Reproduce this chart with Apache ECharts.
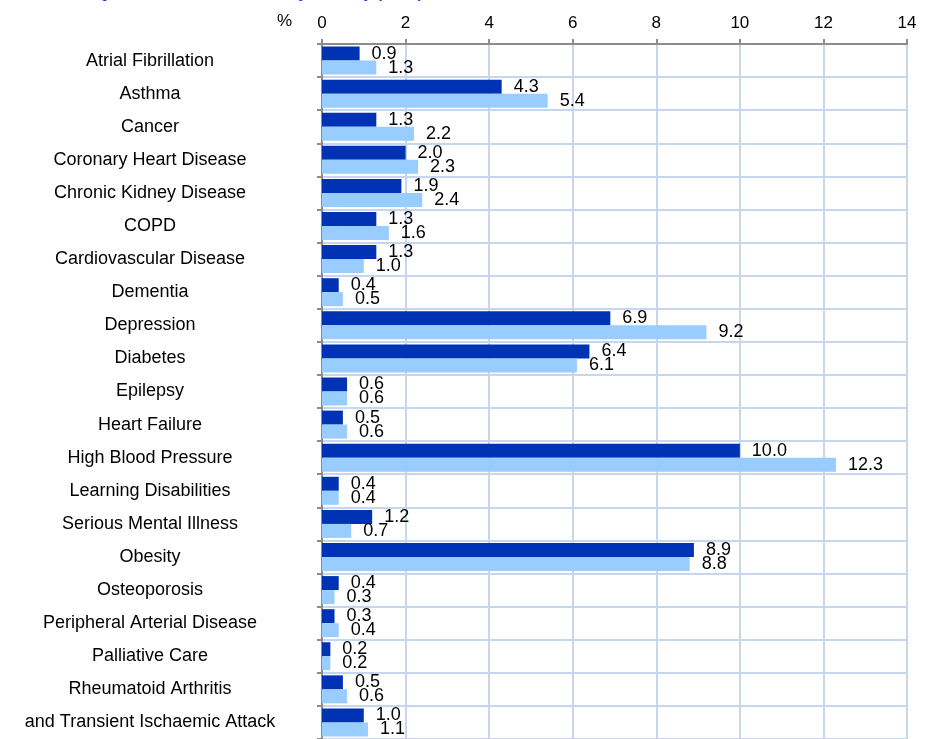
<!DOCTYPE html>
<html>
<head>
<meta charset="utf-8">
<script src="https://cdn.jsdelivr.net/npm/echarts@6/dist/echarts.min.js"></script>
<style>
  html, body { margin: 0; padding: 0; background: #fff; }
  #chart { width: 931px; height: 739px; }
</style>
</head>
<body>
<div id="chart"></div>
<script>
// categories top to bottom
const categories = [
  'Atrial Fibrillation', 'Asthma', 'Cancer', 'Coronary Heart Disease',
  'Chronic Kidney Disease', 'COPD', 'Cardiovascular Disease', 'Dementia',
  'Depression', 'Diabetes', 'Epilepsy', 'Heart Failure', 'High Blood Pressure',
  'Learning Disabilities', 'Serious Mental Illness', 'Obesity', 'Osteoporosis',
  'Peripheral Arterial Disease', 'Palliative Care', 'Rheumatoid Arthritis',
  'and Transient Ischaemic Attack'
]
const seriesDark = [0.9, 4.3, 1.3, 2.0, 1.9, 1.3, 1.3, 0.4, 6.9, 6.4, 0.6, 0.5, 10.0, 0.4, 1.2, 8.9, 0.4, 0.3, 0.2, 0.5, 1.0]
const seriesLight = [1.3, 5.4, 2.2, 2.3, 2.4, 1.6, 1.0, 0.5, 9.2, 6.1, 0.6, 0.6, 12.3, 0.4, 0.7, 8.8, 0.3, 0.4, 0.2, 0.6, 1.1]
const xTicks = [0, 14, 2]  // min, max, interval

const font = 'Liberation Sans, Arial, sans-serif'
const gridColor = '#c6d6ec'
const axisGray = '#8c8c8c'

let chart = echarts.init(document.getElementById('chart'))

function labelOpt() {
  return {
    show: true,
    position: 'right',
    distance: 12,
    color: '#000',
    fontSize: 18,
    fontFamily: font,
    formatter: p => p.value.toFixed(1)
  }
}

chart.setOption({
  animation: false,
  title: {
    text: 'QOF Disease Prevalence by Locality (2010)',
    right: 503,
    top: -19,
    textStyle: { color: '#1a3fd0', fontSize: 16, fontFamily: font, fontWeight: 'bold' }
  },
  grid: { left: 322, right: 24, top: 44, bottom: -2 },
  xAxis: {
    type: 'value',
    position: 'top',
    min: xTicks[0],
    max: xTicks[1],
    interval: xTicks[2],
    name: '%',
    nameLocation: 'start',
    nameGap: 30,
    nameTextStyle: { color: '#000', fontSize: 17, fontFamily: font, verticalAlign: 'bottom', padding: [0, 0, 14, 0] },
    axisLine: { show: true, lineStyle: { color: axisGray, width: 2 } },
    axisTick: { show: true, length: 5, lineStyle: { color: axisGray, width: 2 } },
    axisLabel: { color: '#000', fontSize: 17, fontFamily: font, margin: 12 },
    splitLine: { show: true, lineStyle: { color: gridColor, width: 2 } }
  },
  yAxis: {
    type: 'category',
    inverse: true,
    data: categories,
    axisLine: { show: true, lineStyle: { color: axisGray, width: 2 } },
    axisTick: { show: true, length: 5, lineStyle: { color: axisGray, width: 2 } },
    axisLabel: { color: '#000', fontSize: 18, fontFamily: font, align: 'center', margin: 172, lineHeight: 26, verticalAlign: 'middle', padding: [0, 0, 6, 0] },
    splitLine: { show: true, lineStyle: { color: gridColor, width: 2 } }
  },
  series: [
    {
      type: 'bar',
      data: seriesDark,
      barWidth: 14,
      barGap: '0%',
      itemStyle: { color: '#0032b4' },
      label: labelOpt()
    },
    {
      type: 'bar',
      data: seriesLight,
      barWidth: 14,
      itemStyle: { color: '#99ccff' },
      label: labelOpt()
    }
  ]
})
</script>
</body>
</html>
